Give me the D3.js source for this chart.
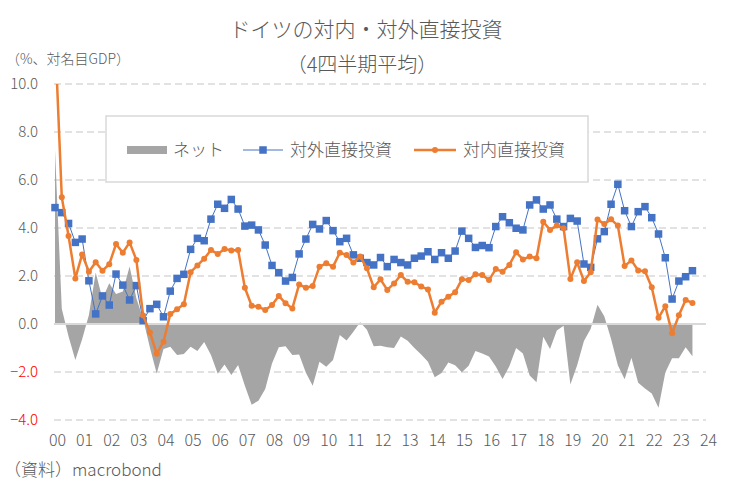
<!DOCTYPE html>
<html>
<head>
<meta charset="utf-8">
<script src="https://cdn.jsdelivr.net/npm/d3@7"></script>
<style>
  body { margin: 0; background: #fff; }
  text { font-family: "Noto Sans CJK JP", "Noto Sans", sans-serif; font-weight: 300; fill: #595959; }
</style>
</head>
<body>
<div id="chart"></div>
<script>
// Quarterly values, 2000Q1 to 2023Q3 (4-quarter averages, % of nominal GDP)
const startYear = 2000;

// Outward FDI (対外直接投資)
const outward = [
  4.85, 4.64, 4.19, 3.40, 3.54, 1.80, 0.42, 1.17, 0.79, 2.08,
  1.62, 1.00, 1.60, 0.14, 0.64, 0.82, 0.30, 1.37, 1.90, 2.07,
  3.11, 3.57, 3.47, 4.37, 4.99, 4.82, 5.19, 4.79, 4.08, 4.12,
  3.92, 3.29, 2.44, 2.14, 1.79, 1.94, 2.92, 3.54, 4.15, 3.96,
  4.31, 3.89, 3.43, 3.57, 2.88, 2.74, 2.56, 2.46, 2.77, 2.39,
  2.69, 2.56, 2.46, 2.74, 2.83, 3.01, 2.69, 2.97, 2.74, 3.04,
  3.87, 3.57, 3.19, 3.27, 3.18, 4.06, 4.47, 4.22, 3.99, 3.92,
  4.96, 5.17, 4.79, 4.96, 4.37, 4.06, 4.40, 4.29, 2.50, 2.36,
  3.55, 3.85, 4.99, 5.82, 4.72, 4.06, 4.68, 4.89, 4.43, 3.75,
  2.76, 1.04, 1.79, 1.97, 2.22
];

// Inward FDI (対内直接投資)
const inward = [
  12.10, 5.28, 3.67, 1.90, 2.90, 2.18, 2.57, 2.22, 2.49, 3.33,
  2.97, 3.40, 2.67, 0.35, -0.35, -1.24, -0.74, 0.42, 0.61, 0.82,
  2.16, 2.44, 2.72, 3.08, 2.92, 3.13, 3.06, 3.08, 1.51, 0.76,
  0.72, 0.58, 0.79, 1.17, 0.86, 0.65, 1.65, 1.51, 1.58, 2.39,
  2.53, 2.39, 2.97, 2.88, 2.56, 2.81, 2.32, 1.53, 1.86, 1.42,
  1.69, 2.04, 1.76, 1.74, 1.56, 1.44, 0.47, 0.93, 1.14, 1.32,
  1.86, 1.83, 2.07, 2.04, 1.83, 2.29, 2.18, 2.46, 2.99, 2.69,
  2.81, 2.74, 4.26, 3.92, 4.10, 3.99, 1.88, 2.57, 1.79, 2.16,
  4.35, 4.17, 4.36, 4.10, 2.42, 2.65, 2.23, 2.20, 1.53, 0.26,
  0.74, -0.39, 0.36, 1.00, 0.88
];

// Net (ネット)
const net = [
  7.25, 0.64, -0.52, -1.50, -0.64, 0.38, 2.15, 1.05, 1.70, 1.25,
  1.35, 2.40, 1.07, 0.21, -0.99, -2.06, -1.04, -0.95, -1.29, -1.25,
  -0.95, -1.13, -0.75, -1.29, -2.07, -1.69, -2.13, -1.71, -2.57, -3.36,
  -3.20, -2.71, -1.65, -0.97, -0.93, -1.29, -1.27, -2.03, -2.57, -1.57,
  -1.78, -1.50, -0.46, -0.69, -0.32, 0.07, -0.24, -0.93, -0.91, -0.97,
  -1.00, -0.52, -0.70, -1.00, -1.27, -1.57, -2.22, -2.04, -1.60, -1.72,
  -2.01, -1.74, -1.12, -1.23, -1.35, -1.77, -2.29, -1.76, -1.00, -1.23,
  -2.15, -2.43, -0.53, -1.04, -0.27, -0.07, -2.52, -1.72, -0.71, -0.20,
  0.80, 0.32, -0.63, -1.72, -2.30, -1.41, -2.45, -2.69, -2.90, -3.49,
  -2.02, -1.43, -1.43, -0.97, -1.34
];

const yTicks = [-4, -2, 0, 2, 4, 6, 8, 10];
const xYears = d3.range(2000, 2025);

const width = 730;
const height = 495;
const plot = { left: 54, right: 706, top: 84, bottom: 420 };

const svg = d3.select("#chart")
  .append("svg")
  .attr("width", width)
  .attr("height", height);

const xScale = d3.scaleLinear()
  .domain([2000, 2024])
  .range([55, 706]);

const yScale = d3.scaleLinear()
  .domain([-4, 10])
  .range([plot.bottom, plot.top]);

const t = i => startYear + i / 4;

// clip so the first inward value stays inside the plot
svg.append("clipPath")
  .attr("id", "plotClip")
  .append("rect")
  .attr("x", plot.left)
  .attr("y", plot.top)
  .attr("width", plot.right - plot.left)
  .attr("height", plot.bottom - plot.top);

// dashed gridlines
svg.append("g")
  .selectAll("line")
  .data(yTicks.filter(d => d !== 0))
  .enter()
  .append("line")
  .attr("x1", plot.left)
  .attr("x2", plot.right)
  .attr("y1", d => yScale(d))
  .attr("y2", d => yScale(d))
  .attr("stroke", "#d9d9d9")
  .attr("stroke-width", 1.3)
  .attr("stroke-dasharray", "7,4");

// net area
const area = d3.area()
  .x((d, i) => xScale(t(i)))
  .y0(yScale(0))
  .y1(d => yScale(d));

svg.append("path")
  .datum(net)
  .attr("clip-path", "url(#plotClip)")
  .attr("fill", "#a5a5a5")
  .attr("d", area);

// zero line
svg.append("line")
  .attr("x1", plot.left)
  .attr("x2", plot.right)
  .attr("y1", yScale(0))
  .attr("y2", yScale(0))
  .attr("stroke", "#d9d9d9")
  .attr("stroke-width", 2);

const line = d3.line()
  .x((d, i) => xScale(t(i)))
  .y(d => yScale(d));

// outward series
svg.append("path")
  .datum(outward)
  .attr("fill", "none")
  .attr("stroke", "#4472c4")
  .attr("stroke-width", 1)
  .attr("d", line);

svg.append("g")
  .selectAll("rect")
  .data(outward)
  .enter()
  .append("rect")
  .attr("x", (d, i) => xScale(t(i)) - 3.75)
  .attr("y", d => yScale(d) - 3.75)
  .attr("width", 7.5)
  .attr("height", 7.5)
  .attr("fill", "#4472c4");

// inward series
const inner = svg.append("g").attr("clip-path", "url(#plotClip)");

inner.append("path")
  .datum(inward)
  .attr("fill", "none")
  .attr("stroke", "#ed7d31")
  .attr("stroke-width", 2.5)
  .attr("stroke-linejoin", "round")
  .attr("d", line);

inner.selectAll("circle")
  .data(inward)
  .enter()
  .append("circle")
  .attr("cx", (d, i) => xScale(t(i)))
  .attr("cy", d => yScale(d))
  .attr("r", 3)
  .attr("fill", "#ed7d31");

// y axis labels
const yAxis = svg.append("g")
  .attr("transform", `translate(${plot.left - 10}, 0)`)
  .call(d3.axisLeft(yScale).tickValues(yTicks).tickSize(0).tickPadding(6).tickFormat(d3.format(".1f")));
yAxis.select(".domain").remove();
yAxis.selectAll("text")
  .style("font-family", "'Noto Sans CJK JP', sans-serif")
  .style("font-weight", "300")
  .style("font-size", "15px")
  .style("fill", d => d < 0 ? "#ff0000" : "#595959");

// x axis labels
const xAxis = svg.append("g")
  .attr("transform", `translate(2, ${plot.bottom + 15})`)
  .call(d3.axisBottom(xScale).tickValues(xYears).tickSize(0).tickPadding(0).tickFormat(d => String(d).slice(2)));
xAxis.select(".domain").remove();
xAxis.selectAll("text")
  .style("font-family", "'Noto Sans CJK JP', sans-serif")
  .style("font-weight", "300")
  .style("font-size", "16px")
  .style("fill", "#595959");

// titles
svg.append("text")
  .attr("x", 366)
  .attr("y", 37)
  .attr("text-anchor", "middle")
  .style("font-size", "21px")
  .text("ドイツの対内・対外直接投資");

svg.append("text")
  .attr("x", 362)
  .attr("y", 72)
  .attr("text-anchor", "middle")
  .style("font-size", "20px")
  .text("（4四半期平均）");

svg.append("text")
  .attr("x", 6)
  .attr("y", 64)
  .style("font-size", "14px")
  .text("（%、対名目GDP）");

svg.append("text")
  .attr("x", 4)
  .attr("y", 476)
  .style("font-size", "17px")
  .text("（資料）macrobond");

// legend
const legend = svg.append("g");
legend.append("rect")
  .attr("x", 106)
  .attr("y", 116)
  .attr("width", 482)
  .attr("height", 66)
  .attr("fill", "#fff")
  .attr("stroke", "#d9d9d9")
  .attr("stroke-width", 1.5);

const ly = 150;
legend.append("rect")
  .attr("x", 127)
  .attr("y", ly - 4)
  .attr("width", 40)
  .attr("height", 8)
  .attr("fill", "#a5a5a5");
legend.append("text")
  .attr("x", 173)
  .attr("y", ly + 6)
  .style("font-size", "17px")
  .text("ネット");

legend.append("line")
  .attr("x1", 243).attr("x2", 283)
  .attr("y1", ly).attr("y2", ly)
  .attr("stroke", "#4472c4")
  .attr("stroke-width", 1);
legend.append("rect")
  .attr("x", 263 - 3.75)
  .attr("y", ly - 3.75)
  .attr("width", 7.5)
  .attr("height", 7.5)
  .attr("fill", "#4472c4");
legend.append("text")
  .attr("x", 290)
  .attr("y", ly + 6)
  .style("font-size", "17px")
  .text("対外直接投資");

legend.append("line")
  .attr("x1", 414).attr("x2", 456)
  .attr("y1", ly).attr("y2", ly)
  .attr("stroke", "#ed7d31")
  .attr("stroke-width", 2.5);
legend.append("circle")
  .attr("cx", 435)
  .attr("cy", ly)
  .attr("r", 3)
  .attr("fill", "#ed7d31");
legend.append("text")
  .attr("x", 463)
  .attr("y", ly + 6)
  .style("font-size", "17px")
  .text("対内直接投資");
</script>
</body>
</html>
